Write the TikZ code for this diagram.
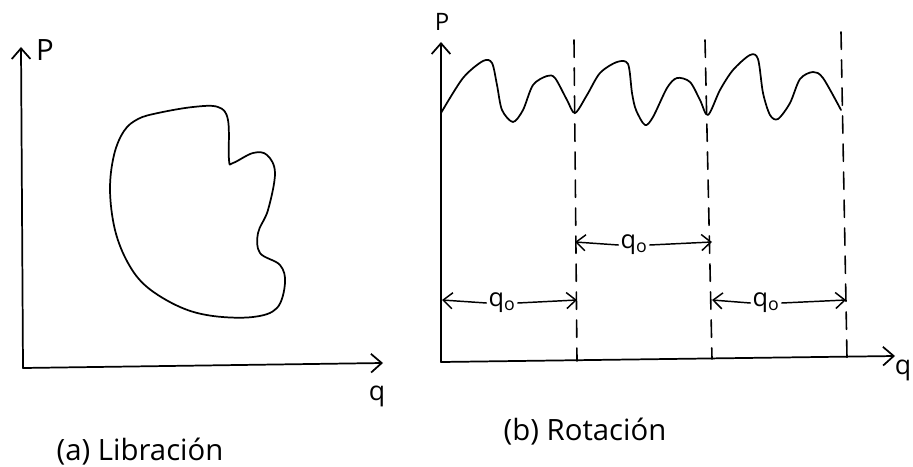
\documentclass[tikz,border=0pt]{standalone}
\usepackage{fontspec}
\setmainfont{Open Sans}
\usetikzlibrary{arrows.meta}
\tikzset{
  ink/.style={line width=1.3pt, line cap=round, line join=round},
  axis/.style={ink, -{Straight Barb[length=8pt,width=14pt,line width=1.3pt]}},
  dimarrow/.style={ink, line width=1.1pt, -{Straight Barb[length=7pt,width=12pt,line width=1.1pt]}},
  period/.style={ink, line width=1.2pt, dash pattern=on 13pt off 8pt},
  lbl/.style={inner sep=1.5pt, font=\fontsize{19}{21}\selectfont},
  captext/.style={inner sep=0pt, font=\fontsize{22}{25}\selectfont},
}
\begin{document}
\begin{tikzpicture}[x=0.75pt,y=-0.75pt]
\useasboundingbox (0,0) rectangle (913,467);
% ---------- (a) Libracion ----------
\coordinate (Ao) at (23,368);
\coordinate (Ap) at (21,47);
\coordinate (Aq) at (383,363);
\draw[axis] (Ao) -- (Ap);
\draw[axis] (Ao) -- (Aq);
\node[lbl, font=\fontsize{22}{24}\selectfont] (PA) at (45,50) {P};
\node[lbl, font=\fontsize{20}{22}\selectfont] (QA) at (377,396) {q};
\draw[ink] plot[smooth cycle, tension=0.6] coordinates {
  (158,113) (193,107) (218,107) (228,120) (229,160) (233,163) (253,153)
  (267,155) (275,173) (268,210) (258,233) (260,253) (280,265) (285,283)
  (277,308) (253,317) (213,316) (180,307) (147,287) (128,263) (115,230)
  (110,190) (114,155) (124,131) (138,119)};
\node[captext] (capA) at (140,452) {(a) Libración};
% ---------- (b) Rotacion ----------
\coordinate (Bo) at (441,362);
\coordinate (Bp) at (441,42);
\coordinate (Bq) at (895,356);
\draw[axis] (Bo) -- (Bp);
\draw[axis] (Bo) -- (Bq);
\node[lbl, font=\fontsize{18}{20}\selectfont] (PB) at (442,22) {P};
\node[lbl, font=\fontsize{20}{22}\selectfont] (QB) at (903,370) {q};
% period lines
\coordinate (T1) at (574,40);  \coordinate (B1) at (577,361);
\coordinate (T2) at (705,40);  \coordinate (B2) at (712,359);
\coordinate (T3) at (841,32);  \coordinate (B3) at (847,358);
\draw[period] (T1) -- (B1);
\draw[period] (T2) -- (B2);
\draw[period] (T3) -- (B3);
% wave
\draw[ink] plot[smooth, tension=0.5] coordinates {
  (441,113) (463,78) (483,61) (492,63) (497,85) (502,110) (513,122)
  (523,110) (533,85) (547,76) (555,78) (567,100) (575,113)
  (587,95) (600,73) (617,62) (628,64) (632,93) (636,110) (645,125)
  (653,117) (667,88) (677,78) (690,82) (700,100) (708,115)
  (720,90) (733,70) (750,55) (758,59) (763,93) (770,115) (778,119)
  (790,103) (800,79) (813,72) (823,78) (841,110)};
% q0 dimensions
\node[lbl] (L1) at (634,245) {q\textsubscript{o}};
\coordinate (L1a) at (575,242); \coordinate (L1b) at (712,242);
\draw[dimarrow] (L1.west) -- (L1a);
\draw[dimarrow] (L1.east) -- (L1b);
\node[lbl] (L2) at (502,303) {q\textsubscript{o}};
\coordinate (L2a) at (442,300); \coordinate (L2b) at (577,300);
\draw[dimarrow] (L2.west) -- (L2a);
\draw[dimarrow] (L2.east) -- (L2b);
\node[lbl] (L3) at (766,303) {q\textsubscript{o}};
\coordinate (L3a) at (712,300); \coordinate (L3b) at (846,300);
\draw[dimarrow] (L3.west) -- (L3a);
\draw[dimarrow] (L3.east) -- (L3b);
\node[captext] (capB) at (585,432) {(b) Rotación};
\end{tikzpicture}
\end{document}
